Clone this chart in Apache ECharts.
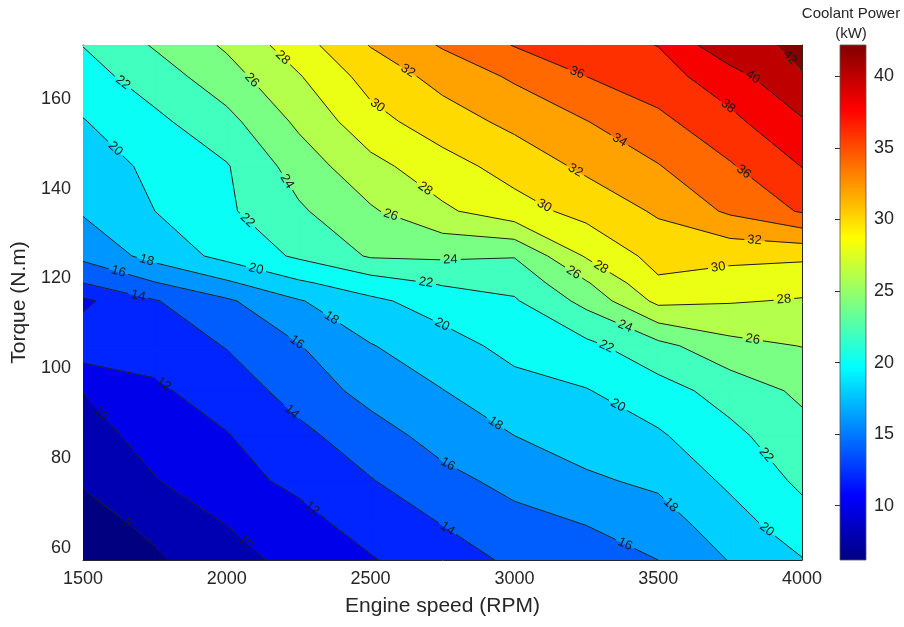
<!DOCTYPE html>
<html>
<head>
<meta charset="utf-8">
<title>Coolant Power</title>
<script src="https://cdn.jsdelivr.net/npm/echarts@6/dist/echarts.min.js"></script>
<style>
html, body { margin: 0; padding: 0; background: #fff; }
#chart { width: 904px; height: 627px; }
</style>
</head>
<body>
<div id="chart"></div>
<script>
// engine speed grid (RPM)
var speeds = [1500, 1750, 2000, 2250, 2500, 2750, 3000, 3250, 3500, 3750, 4000];
// torque grid (N.m)
var torques = [57.3, 65, 75, 85, 95, 105, 115, 119, 125, 135, 145, 155, 165, 172];
// coolant power (kW), one row per torque, one column per speed
var power = [
  [6.2, 7.7, 9.24, 10.63, 11.85, 13.2, 14.3, 15.2, 16.0, 18.1, 19.9],
  [7.1, 8.45, 10.0, 11.35, 12.7, 14.0, 15.3, 16.0, 17.0, 19.1, 21.15],
  [8.2, 9.9, 11.4, 12.4, 13.9, 15.4, 16.6, 17.7, 18.4, 20.4, 22.4],
  [9.1, 10.8, 11.9, 13.5, 15.1, 16.8, 18.0, 18.9, 19.75, 21.5, 23.3],
  [10.05, 11.7, 12.9, 14.8, 16.7, 17.95, 19.3, 19.9, 21.2, 22.8, 24.4],
  [13.2, 12.75, 14.1, 15.9, 17.9, 19.2, 20.6, 21.5, 23.4, 25.4, 26.05],
  [11.6, 13.87, 15.7, 17.85, 19.6, 20.9, 21.8, 24.6, 28.5, 28.15, 27.85],
  [14.0, 15.9, 17.7, 19.7, 21.1, 22.2, 22.6, 25.8, 29.7, 29.1, 28.7],
  [16.5, 18.7, 20.6, 22.3, 24.2, 24.3, 24.1, 28.2, 30.7, 30.5, 30.36],
  [18.2, 20.0, 21.7, 23.7, 25.75, 27.66, 29.2, 30.66, 32.26, 34.33, 36.2],
  [19.05, 20.4, 21.86, 24.9, 27.4, 29.2, 30.8, 32.4, 33.9, 35.8, 38.05],
  [19.9, 21.56, 23.4, 26.4, 29.3, 31.1, 32.5, 33.95, 35.5, 37.5, 39.8],
  [21.2, 23.0, 25.2, 27.85, 30.8, 32.66, 34.3, 36.0, 37.2, 39.14, 41.95],
  [22.05, 24.2, 26.3, 29.15, 32.1, 34.2, 36.1, 37.1, 38.05, 41.6, 42.2]
];
// contour levels (kW)
var levels = [8, 10, 12, 14, 16, 18, 20, 22, 24, 26, 28, 30, 32, 34, 36, 38, 40, 42];
var speedTicks = [1500, 2000, 2500, 3000, 3500, 4000];
var torqueTicks = [60, 80, 100, 120, 140, 160];
var barTicks = [10, 15, 20, 25, 30, 35, 40];

var FONT = 'Liberation Sans, Arial, Helvetica, sans-serif';
var TXT = '#262626';

var allZ = [].concat.apply([], power);
var zMin = Math.min.apply(null, allZ);
var zMax = Math.max.apply(null, allZ);

function jet(t) {
  t = Math.max(0, Math.min(1, t));
  function c(v) { return Math.round(255 * Math.max(0, Math.min(1, v))); }
  var r = Math.min(4 * t - 1.5, -4 * t + 4.5);
  var g = Math.min(4 * t - 0.5, -4 * t + 3.5);
  var b = Math.min(4 * t + 0.5, -4 * t + 2.5);
  return 'rgb(' + c(r) + ',' + c(g) + ',' + c(b) + ')';
}
function bandColor(k) {
  var lo = k === 0 ? zMin : levels[k - 1];
  return jet((lo - zMin) / (zMax - zMin));
}

function nodeGrid(api) {
  return torques.map(function (t, j) {
    return speeds.map(function (s, i) {
      var p = api.coord([s, t]);
      return { x: p[0], y: p[1], z: power[j][i] };
    });
  });
}

// keep the part of a cell ring where z >= level
function clipRing(ring, level) {
  var out = [];
  for (var k = 0; k < ring.length; k++) {
    var a = ring[k], b = ring[(k + 1) % ring.length];
    var ain = a.z >= level, bin = b.z >= level;
    if (ain) out.push(a);
    if (ain !== bin) {
      var t = (level - a.z) / (b.z - a.z);
      out.push({ x: a.x + t * (b.x - a.x), y: a.y + t * (b.y - a.y), z: level });
    }
  }
  return out;
}

function renderBand(params, api) {
  var k = api.value(2);
  var color = bandColor(k);
  var P = nodeGrid(api);
  var children = [];
  for (var j = 0; j < torques.length - 1; j++) {
    for (var i = 0; i < speeds.length - 1; i++) {
      var ring = [P[j][i], P[j][i + 1], P[j + 1][i + 1], P[j + 1][i]];
      var poly = k === 0 ? ring : clipRing(ring, levels[k - 1]);
      if (poly.length < 3) continue;
      children.push({
        type: 'polygon',
        silent: true,
        shape: { points: poly.map(function (p) { return [p.x, p.y]; }) },
        style: { fill: color, stroke: color, lineWidth: 1 }
      });
    }
  }
  return { type: 'group', children: children };
}

// marching squares, segments chained into paths
function contourPaths(P, L) {
  var segs = [];
  for (var j = 0; j < P.length - 1; j++) {
    for (var i = 0; i < P[0].length - 1; i++) {
      var c0 = P[j][i], c1 = P[j][i + 1], c2 = P[j + 1][i + 1], c3 = P[j + 1][i];
      var h = [c0.z >= L, c1.z >= L, c2.z >= L, c3.z >= L];
      var edges = [
        { key: 'h' + i + '_' + j, a: c0, b: c1, on: h[0] !== h[1] },
        { key: 'v' + (i + 1) + '_' + j, a: c1, b: c2, on: h[1] !== h[2] },
        { key: 'h' + i + '_' + (j + 1), a: c2, b: c3, on: h[2] !== h[3] },
        { key: 'v' + i + '_' + j, a: c3, b: c0, on: h[3] !== h[0] }
      ];
      var on = edges.filter(function (e) { return e.on; });
      if (on.length === 2) {
        segs.push([on[0], on[1]]);
      } else if (on.length === 4) {
        var center = (c0.z + c1.z + c2.z + c3.z) / 4 >= L;
        if (h[0] === center) {
          segs.push([edges[0], edges[1]]);
          segs.push([edges[2], edges[3]]);
        } else {
          segs.push([edges[3], edges[0]]);
          segs.push([edges[1], edges[2]]);
        }
      }
    }
  }
  var pts = {}, adj = {};
  segs.forEach(function (s, idx) {
    s.forEach(function (e) {
      if (!pts[e.key]) {
        var t = (L - e.a.z) / (e.b.z - e.a.z);
        pts[e.key] = [e.a.x + t * (e.b.x - e.a.x), e.a.y + t * (e.b.y - e.a.y)];
      }
      (adj[e.key] = adj[e.key] || []).push(idx);
    });
  });
  var used = [];
  function walk(key) {
    var path = [pts[key]];
    while (true) {
      var next = (adj[key] || []).filter(function (si) { return !used[si]; })[0];
      if (next === undefined) break;
      used[next] = true;
      var s = segs[next];
      key = s[0].key === key ? s[1].key : s[0].key;
      path.push(pts[key]);
    }
    return path;
  }
  var paths = [];
  Object.keys(adj).forEach(function (k) {
    if (adj[k].length === 1 && !used[adj[k][0]]) paths.push(walk(k));
  });
  segs.forEach(function (s, idx) {
    if (!used[idx]) paths.push(walk(s[0].key));
  });
  return paths;
}

function cumLengths(path) {
  var cum = [0];
  for (var k = 1; k < path.length; k++) {
    cum.push(cum[k - 1] + Math.hypot(path[k][0] - path[k - 1][0], path[k][1] - path[k - 1][1]));
  }
  return cum;
}
function pointAt(path, cum, s) {
  for (var k = 1; k < path.length; k++) {
    if (cum[k] >= s || k === path.length - 1) {
      var seg = cum[k] - cum[k - 1] || 1;
      var t = Math.max(0, Math.min(1, (s - cum[k - 1]) / seg));
      return [path[k - 1][0] + t * (path[k][0] - path[k - 1][0]),
              path[k - 1][1] + t * (path[k][1] - path[k - 1][1])];
    }
  }
  return path[0];
}
function subPath(path, cum, a, b) {
  var out = [pointAt(path, cum, a)];
  for (var k = 0; k < path.length; k++) {
    if (cum[k] > a && cum[k] < b) out.push(path[k]);
  }
  out.push(pointAt(path, cum, b));
  return out;
}

var LABEL_SPACING = 195;
var LABEL_SIZE = 13;

function renderLevel(params, api) {
  var L = levels[api.value(2)];
  var P = nodeGrid(api);
  var paths = contourPaths(P, L);
  var children = [];
  var txt = String(L);
  var hw = txt.length * 0.56 * LABEL_SIZE / 2 + 3;
  paths.forEach(function (path) {
    var cum = cumLengths(path);
    var total = cum[cum.length - 1];
    var first = path[0], last = path[path.length - 1];
    var chord = Math.hypot(last[0] - first[0], last[1] - first[1]);
    var spots = [];
    if (total < LABEL_SPACING) {
      // short runs: only label fairly straight ones
      if (total >= 30 && chord > 0.85 * total) spots.push(total / 2);
    } else {
      var off = (total % LABEL_SPACING) / 2;
      for (var s = off; s <= total - 15; s += LABEL_SPACING) {
        if (s >= 15) spots.push(s);
      }
      if (!spots.length) spots.push(total / 2);
    }
    var start = 0;
    spots.forEach(function (s) {
      if (s - hw > start) {
        children.push(lineEl(subPath(path, cum, start, s - hw)));
      }
      start = s + hw;
      var p = pointAt(path, cum, s);
      var pa = pointAt(path, cum, Math.max(0, s - 8));
      var pb = pointAt(path, cum, Math.min(total, s + 8));
      var ang = Math.atan2(pb[1] - pa[1], pb[0] - pa[0]);
      if (ang > Math.PI / 2) ang -= Math.PI;
      if (ang < -Math.PI / 2) ang += Math.PI;
      children.push({
        type: 'text',
        silent: true,
        x: p[0],
        y: p[1],
        rotation: -ang,
        style: {
          text: txt,
          fill: '#1a1a1a',
          font: LABEL_SIZE + 'px ' + FONT,
          align: 'center',
          verticalAlign: 'middle'
        }
      });
    });
    if (start < total) children.push(lineEl(subPath(path, cum, start, total)));
  });
  return { type: 'group', children: children };
}
function lineEl(points) {
  return {
    type: 'polyline',
    silent: true,
    shape: { points: points },
    style: { stroke: '#1e1e1e', lineWidth: 1, fill: null }
  };
}

function renderBar(params, api) {
  var p0 = api.coord([0, api.value(1)]);
  var p1 = api.coord([1, api.value(2)]);
  var stops = [];
  for (var k = 0; k <= 16; k++) stops.push({ offset: k / 16, color: jet(k / 16) });
  return {
    type: 'rect',
    silent: true,
    shape: { x: p0[0], y: p1[1], width: p1[0] - p0[0], height: p0[1] - p1[1] },
    style: { fill: new echarts.graphic.LinearGradient(0, 1, 0, 0, stops), stroke: '#555', lineWidth: 0.8 }
  };
}

var chart = echarts.init(document.getElementById('chart'), null, { renderer: 'canvas' });

var tickStyle = { color: TXT, fontSize: 18, fontFamily: FONT };
function plain(v) { return String(v); }

chart.setOption({
  animation: false,
  backgroundColor: '#fff',
  textStyle: { fontFamily: FONT },
  grid: [
    { left: 83, right: 102, top: 45, bottom: 67 },
    { left: 840, right: 38, top: 45, bottom: 67 }
  ],
  graphic: [{
    type: 'text',
    x: 851,
    y: 4,
    silent: true,
    style: {
      text: 'Coolant Power\n(kW)',
      fill: TXT,
      font: '15px ' + FONT,
      align: 'center',
      lineHeight: 20
    }
  }],
  xAxis: [
    {
      type: 'value', gridIndex: 0, min: 1500, max: 4000, interval: 500,
      name: 'Engine speed (RPM)', nameLocation: 'middle', nameGap: 36,
      nameTextStyle: { color: TXT, fontSize: 21, fontFamily: FONT },
      axisLine: { show: true, lineStyle: { color: TXT, width: 1 } },
      axisTick: { inside: true, length: 6, lineStyle: { color: TXT } },
      axisLabel: Object.assign({ margin: 10, formatter: plain }, tickStyle),
      splitLine: { show: false }
    },
    {
      type: 'value', gridIndex: 0, min: 1500, max: 4000, interval: 500, position: 'top',
      axisLine: { show: true, lineStyle: { color: TXT, width: 1 } },
      axisTick: { inside: true, length: 6, lineStyle: { color: TXT } },
      axisLabel: { show: false },
      splitLine: { show: false }
    },
    { type: 'value', gridIndex: 1, min: 0, max: 1, show: false }
  ],
  yAxis: [
    {
      type: 'value', gridIndex: 0, min: torques[0], max: torques[torques.length - 1],
      name: 'Torque (N.m)', nameLocation: 'middle', nameGap: 47,
      nameTextStyle: { color: TXT, fontSize: 21, fontFamily: FONT },
      axisLine: { show: true, lineStyle: { color: TXT, width: 1 } },
      axisTick: { inside: true, length: 6, lineStyle: { color: TXT }, customValues: torqueTicks },
      axisLabel: Object.assign({ margin: 12, customValues: torqueTicks }, tickStyle),
      splitLine: { show: false }
    },
    {
      type: 'value', gridIndex: 0, min: torques[0], max: torques[torques.length - 1], position: 'right',
      axisLine: { show: true, lineStyle: { color: TXT, width: 1 } },
      axisTick: { inside: true, length: 6, lineStyle: { color: TXT }, customValues: torqueTicks },
      axisLabel: { show: false },
      splitLine: { show: false }
    },
    {
      type: 'value', gridIndex: 1, min: zMin, max: zMax, position: 'right',
      axisLine: { show: false },
      axisTick: { inside: true, length: 5, lineStyle: { color: '#333' }, customValues: barTicks },
      axisLabel: Object.assign({ margin: 8, customValues: barTicks }, tickStyle),
      splitLine: { show: false }
    }
  ],
  series: [
    {
      type: 'custom', xAxisIndex: 0, yAxisIndex: 0, clip: true, silent: true,
      encode: { x: 0, y: 1 },
      data: [zMin].concat(levels).map(function (v, k) { return [speeds[0], torques[0], k]; }),
      renderItem: renderBand
    },
    {
      type: 'custom', xAxisIndex: 0, yAxisIndex: 0, clip: true, silent: true,
      encode: { x: 0, y: 1 },
      data: levels.map(function (v, k) { return [speeds[0], torques[0], k]; }),
      renderItem: renderLevel
    },
    {
      type: 'custom', xAxisIndex: 2, yAxisIndex: 2, silent: true,
      encode: { x: 0, y: 1 },
      data: [[0, zMin, zMax]],
      renderItem: renderBar
    }
  ]
});
</script>
</body>
</html>
